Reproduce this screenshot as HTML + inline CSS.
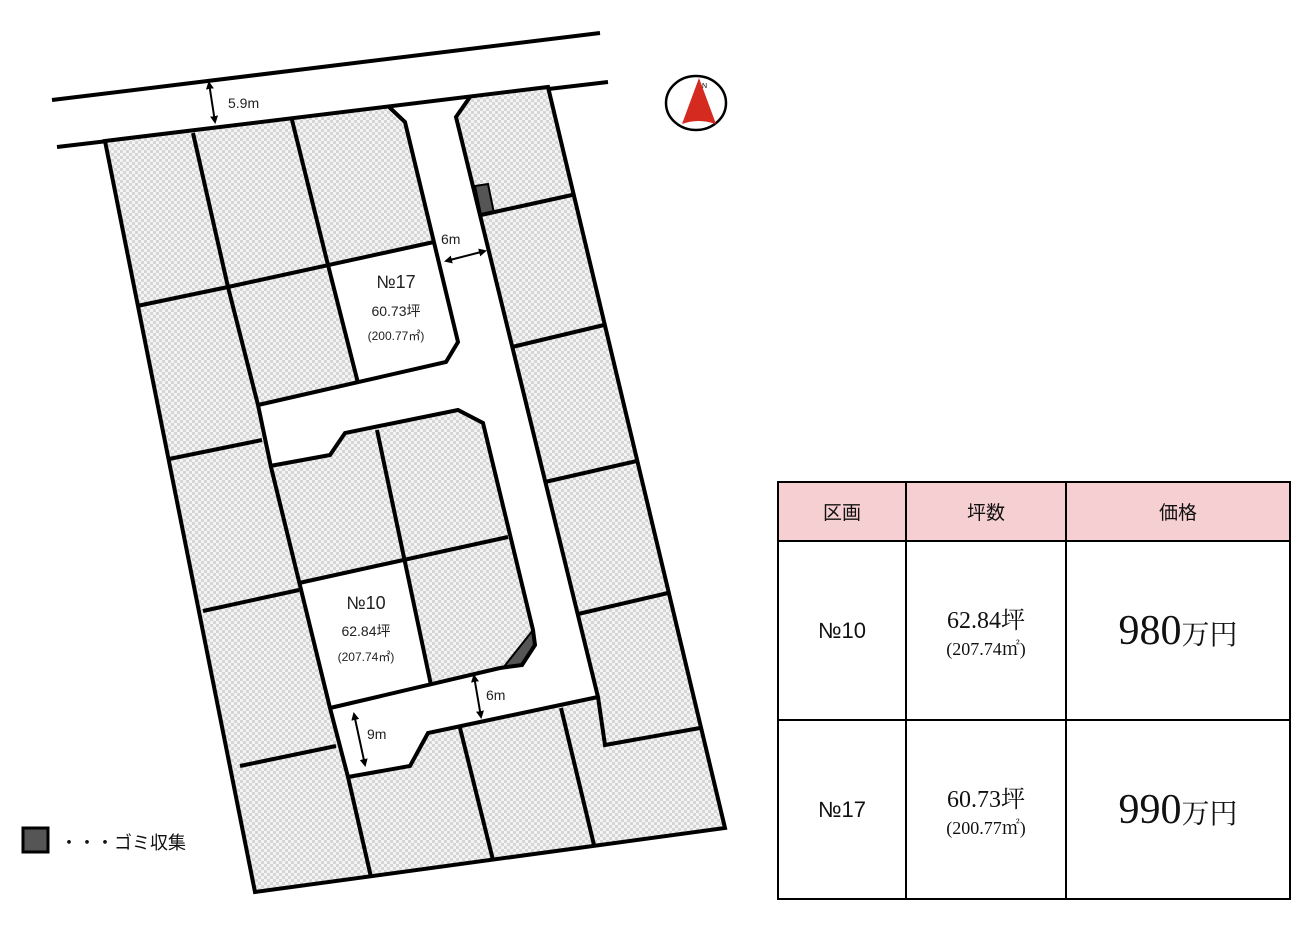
<!DOCTYPE html>
<html><head><meta charset="utf-8"><style>
body{margin:0;background:#fff;width:1312px;height:952px;overflow:hidden;position:relative;font-family:"Liberation Sans","Noto Sans CJK JP",sans-serif}
svg{position:absolute;left:0;top:0}
table{position:absolute;left:777px;top:481px;border-collapse:collapse;table-layout:fixed;width:512px}
td{border:2px solid #000;text-align:center;padding:0;color:#111}
.h td{background:#f5cfd1;height:57px;font-size:19px}
.r td{height:177px}
.serif{font-family:"Liberation Serif","Noto Serif CJK JP",serif}
</style></head><body>
<svg width="1312" height="952" viewBox="0 0 1312 952">
<defs>
<pattern id="ck" width="6" height="6" patternUnits="userSpaceOnUse">
<rect width="6" height="6" fill="#f4f4f4"/><rect width="3" height="3" fill="#d6d6d6"/><rect x="3" y="3" width="3" height="3" fill="#d6d6d6"/>
</pattern>
<marker id="a" markerWidth="8" markerHeight="8" refX="6" refY="4" orient="auto-start-reverse" markerUnits="userSpaceOnUse"><path d="M0,0 L8,4 L0,8 z" fill="#000"/></marker>
</defs>
<g stroke="#000" stroke-width="4" fill="none" stroke-linejoin="miter">
<line x1="52" y1="100" x2="600" y2="33"/>
<line x1="57" y1="147" x2="608" y2="82"/>
</g>
<polygon points="105,141 548,87 725,828 255,892" fill="url(#ck)"/>
<polygon points="388,106 405,122 458,342 446,362 258,405 270,466 330,455 345,433 458,410 483,423 533,630 535,645 522,665 500,668 330,708 348,777 410,766 428,733 598,697 456,117 470,97" fill="#fff"/>
<polygon points="330,265 434,242 458,342 446,362 358,383" fill="#fff"/>
<polygon points="299,583 404,560 431,686 330,708" fill="#fff"/>
<polygon points="533,630 535,645 522,665 503,668" fill="#555" stroke="#000" stroke-width="2"/>
<polygon points="475,186 488,184 494,213 481,215" fill="#555" stroke="#000" stroke-width="2"/>
<g stroke="#000" stroke-width="4" fill="none" stroke-linejoin="miter">
<polygon points="105,141 548,87 725,828 255,892"/>
<polyline points="193,133 228,287 258,405 271,467 330,708 348,777 371,877"/>
<polyline points="292,120 328,265 358,383"/>
<line x1="137" y1="306" x2="228" y2="287"/>
<line x1="169" y1="459" x2="262" y2="440"/>
<line x1="203" y1="611" x2="299" y2="590"/>
<line x1="240" y1="766" x2="336" y2="746"/>
<line x1="228" y1="287" x2="434" y2="242"/>
<polyline points="388,106 405,122 458,342 446,362 258,405"/>
<polyline points="270,466 330,455 345,433 458,410 483,423 533,630 535,645 522,665 500,668 330,708"/>
<line x1="377" y1="430" x2="431" y2="685"/>
<line x1="299" y1="583" x2="508" y2="537"/>
<polyline points="348,777 410,766 428,733 598,697"/>
<polyline points="470,97 456,117 598,697 605,745 700,728"/>
<line x1="460" y1="728" x2="493" y2="860"/>
<line x1="561" y1="708" x2="594" y2="845"/>
<line x1="481" y1="215" x2="572" y2="195"/>
<line x1="512" y1="347" x2="604" y2="325"/>
<line x1="545" y1="482" x2="637" y2="461"/>
<line x1="578" y1="614" x2="668" y2="593"/>
</g>
<g stroke="#000" stroke-width="2">
<line x1="209" y1="83" x2="215" y2="122" marker-start="url(#a)" marker-end="url(#a)"/>
<line x1="446" y1="261" x2="485" y2="251" marker-start="url(#a)" marker-end="url(#a)"/>
<line x1="474" y1="676" x2="481" y2="717" marker-start="url(#a)" marker-end="url(#a)"/>
<line x1="354" y1="714" x2="365" y2="765" marker-start="url(#a)" marker-end="url(#a)"/>
</g>
<g font-family="Liberation Sans, Noto Sans CJK JP, sans-serif" fill="#222">
<text x="228" y="108" font-size="14">5.9m</text>
<text x="441" y="244" font-size="14">6m</text>
<text x="486" y="700" font-size="14">6m</text>
<text x="367" y="739" font-size="14">9m</text>
<text x="396" y="288" font-size="18" text-anchor="middle">№17</text>
<text x="396" y="316" font-size="14" text-anchor="middle">60.73坪</text>
<text x="396" y="340" font-size="12" text-anchor="middle">(200.77㎡)</text>
<text x="366" y="609" font-size="18" text-anchor="middle">№10</text>
<text x="366" y="636" font-size="14" text-anchor="middle">62.84坪</text>
<text x="366" y="661" font-size="12" text-anchor="middle">(207.74㎡)</text>
<text x="60" y="849" font-size="18" fill="#111">・・・ゴミ収集</text>
</g>
<rect x="23" y="828" width="25" height="24" fill="#555" stroke="#000" stroke-width="3"/>
<ellipse cx="696" cy="103" rx="30" ry="27" fill="#fff" stroke="#000" stroke-width="2.5"/>
<path d="M699,78 L682,124 Q698,118 716,124 Z" fill="#d42a20"/>
<text x="702" y="88" font-size="7" font-family="Liberation Sans,sans-serif">N</text>
</svg>
<table>
<colgroup><col style="width:128px"><col style="width:160px"><col style="width:224px"></colgroup>
<tr class="h"><td>区画</td><td>坪数</td><td>価格</td></tr>
<tr class="r"><td style="font-size:22px">№10</td><td class="serif"><div style="font-size:24px">62.84坪</div><div style="font-size:18px">(207.74㎡)</div></td><td class="serif"><span style="font-size:42px">980</span><span style="font-size:28px">万円</span></td></tr>
<tr class="r"><td style="font-size:22px">№17</td><td class="serif"><div style="font-size:24px">60.73坪</div><div style="font-size:18px">(200.77㎡)</div></td><td class="serif"><span style="font-size:42px">990</span><span style="font-size:28px">万円</span></td></tr>
</table>
</body></html>
